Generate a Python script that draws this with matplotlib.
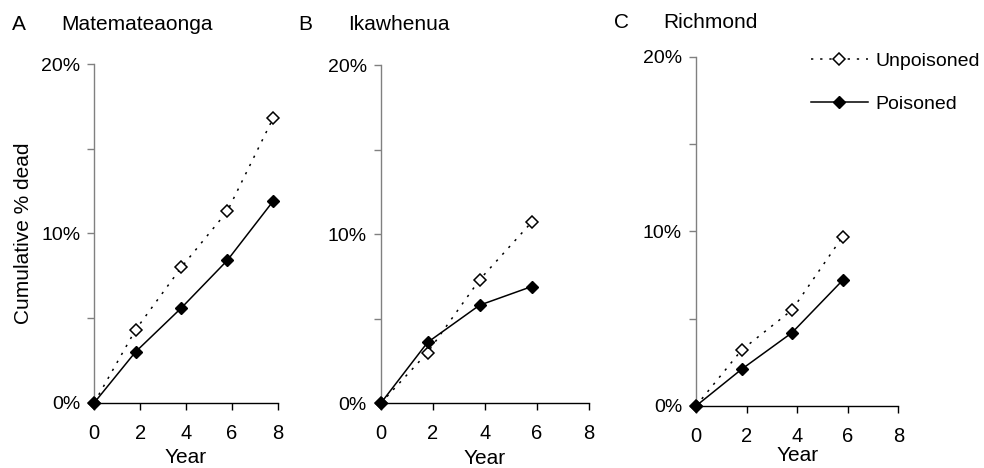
import matplotlib
matplotlib.use("Agg")
import matplotlib.pyplot as plt
from matplotlib.ticker import FixedLocator, FuncFormatter

plt.rcParams['font.family'] = ['Liberation Sans', 'DejaVu Sans']
plt.rcParams['font.size'] = 15
plt.rcParams['xtick.labelsize'] = 14.5
plt.rcParams['ytick.labelsize'] = 14

# data (cumulative % dead)
sites = ["Matemateaonga", "Ikawhenua", "Richmond"]
letters = ["A", "B", "C"]
years_a = [0, 1.8, 3.8, 5.8, 7.8]
years_bc = [0, 1.8, 3.8, 5.8]
unpois_a = [0, 4.3, 8.0, 11.3, 16.8]
pois_a = [0, 3.0, 5.6, 8.4, 11.9]
unpois_b = [0, 3.0, 7.3, 10.7]
pois_b = [0, 3.6, 5.8, 6.9]
unpois_c = [0, 3.2, 5.5, 9.7]
pois_c = [0, 2.1, 4.2, 7.2]

panels = [
    (years_a, unpois_a, pois_a),
    (years_bc, unpois_b, pois_b),
    (years_bc, unpois_c, pois_c),
]
# axes boxes [left, bottom, width, height] in figure fractions
boxes = [
    [0.0958, 0.1395, 0.1864, 0.7237],
    [0.3869, 0.1382, 0.2114, 0.7229],
    [0.7073, 0.1325, 0.2056, 0.7463],
]
title_y = [25, 24, 23]
xlab_pad = [4, 4, 0]

fig = plt.figure(figsize=(9.84, 4.68), dpi=100)

for i, (yrs, up, po) in enumerate(panels):
    ax = fig.add_axes(boxes[i])
    ax.plot(yrs, up, linestyle=(0, (1.5, 4.5)), color='black', lw=1.1, marker='D', ms=6.5,
            mfc='white', mec='black', mew=1.1, clip_on=False, zorder=3,
            label='Unpoisoned')
    ax.plot(yrs, po, linestyle='-', color='black', lw=1.1, marker='D', ms=6.5,
            mfc='black', mec='black', clip_on=False, zorder=4,
            label='Poisoned')
    ax.set_xlim(0, 8)
    ax.set_ylim(0, 20)
    ax.set_xticks([0, 2, 4, 6, 8])
    ax.yaxis.set_major_locator(FixedLocator([0, 10, 20]))
    ax.yaxis.set_minor_locator(FixedLocator([5, 15]))
    ax.yaxis.set_major_formatter(FuncFormatter(lambda v, p: f"{v:.0f}%"))
    ax.spines['top'].set_visible(False)
    ax.spines['right'].set_visible(False)
    ax.spines['left'].set_color('#808080')
    ax.spines['left'].set_linewidth(1.0)
    ax.spines['bottom'].set_linewidth(1.0)
    ax.tick_params(axis='x', length=5, width=1, pad=10)
    ax.tick_params(axis='y', which='both', length=5, width=1, color='#808080', pad=5)
    ax.set_xlabel('Year', labelpad=xlab_pad[i])
    if i == 0:
        ax.set_ylabel('Cumulative % dead', labelpad=6)
    bx = boxes[i][0] * 984
    fig.text((bx - 82) / 984, 1 - title_y[i] / 468, letters[i], va='center', ha='left')
    fig.text((bx - 33) / 984, 1 - title_y[i] / 468, sites[i], va='center', ha='left')
    if i == 2:
        ax.legend(loc='upper left', bbox_to_anchor=(0.824, 0.888),
                  bbox_transform=fig.transFigure, frameon=False, fontsize=14,
                  handlelength=2.95, handletextpad=0.36, labelspacing=1.3,
                  borderpad=0, borderaxespad=0)

fig.savefig('out.png', dpi=100)
